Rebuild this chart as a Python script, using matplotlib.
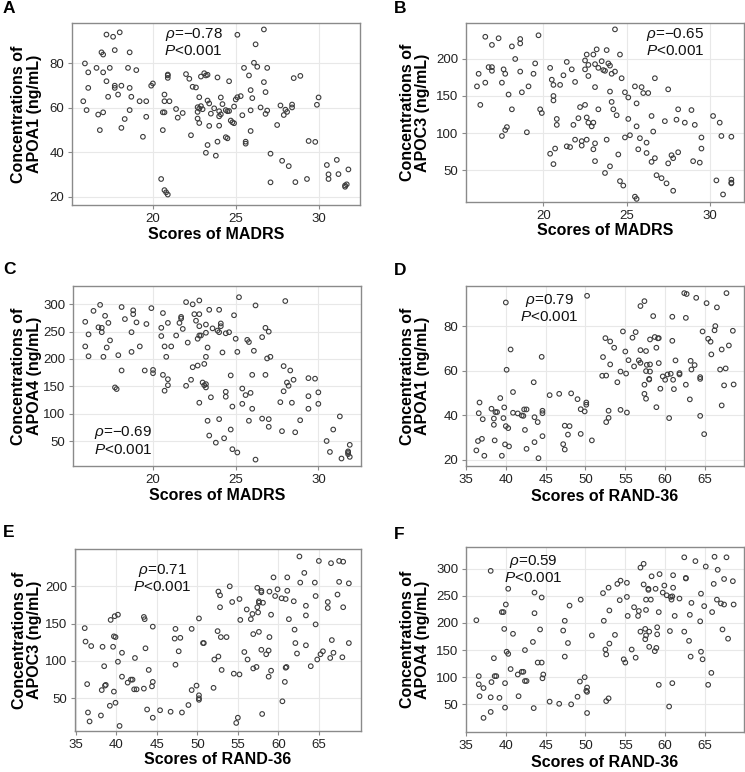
import numpy as np
import matplotlib.pyplot as plt

plt.rcParams['font.family'] = ['Liberation Sans', 'DejaVu Sans']
plt.rcParams['mathtext.fontset'] = 'custom'
plt.rcParams['mathtext.it'] = 'Liberation Sans:italic'
plt.rcParams['mathtext.rm'] = 'Liberation Sans'

#%% data

# A: MADRS vs APOA1
madrs_a = [15.9, 15.8, 16.0, 16.1, 16.1, 16.6, 16.7, 16.8, 16.9, 17.0, 17.0, 17.0, 17.2, 17.2, 17.3, 17.4, 17.6, 17.7, 17.7, 17.7,
           17.9, 18.0, 18.1, 18.1, 18.3, 18.5, 18.6, 18.6, 18.6, 18.7, 19.0, 19.2, 19.4, 19.6, 19.6, 19.9, 20.0,
           20.5, 20.6, 20.6, 20.7, 20.7, 20.7, 20.7, 20.8, 20.9, 20.9, 20.9, 20.9, 21.0,
           21.4, 21.5, 21.8, 22.0, 22.2, 22.3, 22.4, 22.6,
           22.7, 22.7, 22.7, 22.8, 22.8, 22.8, 22.9, 22.9, 23.0,
           23.2, 23.1, 23.2, 23.3, 23.3, 23.3, 23.4, 23.4, 23.5, 23.7, 23.8, 23.9, 23.9,
           24.0, 24.0, 24.0, 24.1, 24.1, 24.2, 24.4, 24.4, 24.5, 24.5, 24.6, 24.6, 24.7, 24.8, 24.9, 24.9, 25.0, 25.1, 25.1, 25.3, 25.4, 25.5,
           25.6, 25.6, 25.8, 25.9, 25.9, 25.9, 26.0, 26.1, 26.2, 26.3, 26.5, 26.7, 26.7, 26.8, 26.8, 26.9, 26.9,
           27.1, 27.1, 27.5, 27.7, 27.8, 27.9, 28.0, 28.1, 28.2, 28.4, 28.4, 28.5, 28.6, 28.9, 29.3, 29.4, 29.8, 29.9, 30.0,
           30.5, 30.6, 30.6, 31.1, 31.2, 31.6, 31.6, 31.7, 31.8]
apoa1_a = [80, 63, 59, 76, 69, 78, 57, 50, 85, 84, 58, 76, 72, 93, 65, 78, 92, 70, 69, 86,
           66, 94, 51, 70, 55, 78, 69, 85, 59, 65, 77, 63, 47, 56, 63, 70, 71,
           28, 58, 50, 23, 63, 66, 58, 22, 21, 75, 73.5, 74.6, 63,
           59.5, 55.6, 57.7, 75.2, 73.1, 47.7, 69.5, 69.2,
           55.2, 60.3, 58.2, 53.2, 64.8, 59.7, 74.1, 60.8, 59.4,
           39.8, 75.6, 74.6, 63.3, 74.9, 43.3, 51.9, 62, 57.4, 59.8, 38.5, 44.8, 73.7,
           58.5, 56.2, 52, 64.7, 57.1, 61.7, 59, 46.8, 58.5, 46.3, 58.6, 72, 54.3, 53.5, 53.1, 60.6, 63.8, 64.8, 92.9, 65.3, 56.7, 78,
           43.9, 44.8, 74.6, 68, 49.6, 58.9, 64.4, 80.3, 88.6, 78.5, 60.2, 95.3, 71.6, 57.3, 67.1, 58.8, 78,
           39.4, 26.5, 52.3, 61.1, 36.2, 56.8, 59.2, 58.2, 33.8, 61.5, 60.2, 73.4, 26.6, 74.4, 28, 45.1, 44.7, 61.4, 64.7,
           34.3, 30.1, 28, 36.6, 30.2, 25.1, 24.5, 25.6, 32.3]

# B: MADRS vs APOC3
madrs_b = [16.0, 16.1, 16.2, 16.5, 16.5, 16.7, 16.9, 16.9, 16.9, 17.3, 17.5, 17.5, 17.6, 17.7, 17.8, 17.7, 17.9, 18.1, 18.1, 18.3,
           18.6, 18.6, 18.6, 18.7, 19.0, 19.1, 19.4, 19.5, 19.7, 19.8, 19.9,
           20.4, 20.4, 20.5, 20.6, 20.6, 20.6, 20.6, 20.7, 20.8, 20.8, 21.0, 21.2, 21.4, 21.4, 21.6, 21.7, 21.8, 21.9, 21.9, 22.1,
           22.2, 22.3, 22.3, 22.5, 22.5, 22.5, 22.6, 22.6, 22.6, 22.7, 22.7, 22.7, 22.9, 23.0, 23.0, 23.0, 23.1, 23.1, 23.1, 23.2,
           23.1, 23.3, 23.3, 23.5, 23.6, 23.7, 23.7, 23.8, 23.8, 23.9, 24.0, 24.0, 24.0, 24.1, 24.1, 24.2, 24.3, 24.3, 24.4, 24.5,
           24.6, 24.6, 24.7, 24.8, 24.9, 24.9,
           25.1, 25.1, 25.2, 25.5, 25.5, 25.6, 25.6, 25.6, 25.7, 25.8, 25.9, 26.0, 26.2, 26.2, 26.3, 26.5, 26.5, 26.6, 26.7, 26.7,
           26.8, 27.1, 27.3, 27.4, 27.5, 27.5, 27.7, 27.8, 27.8, 28.0, 28.1, 28.1, 28.5, 28.9, 29.0, 29.1, 29.4, 29.5, 29.5, 30.2,
           30.4, 30.6, 30.7, 30.8, 31.3, 31.3, 31.3, 31.3]
apoc3_b = [163, 180, 138, 230, 168, 189, 219, 189, 184, 228, 168, 96, 186, 180, 108, 104, 152, 217, 132, 200,
           221, 227, 183, 155, 101, 163, 180, 194, 232, 132, 127,
           188, 72, 172, 165, 150, 144, 58, 79, 119, 111, 165, 178, 196, 82, 81, 186, 111, 169, 91, 120,
           135, 89, 83, 198, 186, 138, 121, 206, 91, 192, 114, 177, 109, 114, 206, 78, 193, 162, 86, 213,
           62, 132, 188, 197, 185, 46, 184, 91, 212, 194, 191, 156, 55, 180, 142, 132, 183, 240, 124, 71,
           35, 206, 174, 29, 94, 155,
           148, 119, 97, 163, 14, 11, 140, 109, 78, 93, 162, 154, 87, 73, 154, 123, 61, 102, 66, 174,
           43, 39, 116, 32, 159, 59, 70, 22, 66, 118, 74, 132, 114, 131, 62, 111, 60, 94, 79, 123,
           36, 114, 96, 17, 37, 33, 32, 95]

# C: MADRS vs APOA4
madrs_c = [15.9, 15.9, 16.1, 16.1, 16.4, 16.7, 16.8, 16.9, 16.9, 17.0, 17.1, 17.2, 17.3, 17.4, 17.7, 17.8, 17.9, 18.1, 18.1, 18.3,
           18.7, 18.7, 18.8, 18.8, 19.0, 19.2, 19.5, 19.6, 19.9, 20.0, 20.0,
           20.6, 20.5, 20.5, 20.6, 20.7, 20.8, 20.7, 20.9, 20.9, 20.9, 21.1, 21.4, 21.6, 21.7, 21.7, 21.8, 22.0, 22.0, 22.1, 22.3,
           22.4, 22.4, 22.5, 22.6, 22.7, 22.7, 22.8, 22.8, 22.8, 22.8, 22.8, 22.9, 23.0, 23.1, 23.2, 23.2, 23.1, 23.2, 23.2, 23.2,
           23.3, 23.3, 23.4, 23.4, 23.5, 23.6,
           23.8, 23.9, 24.0, 24.0, 24.0, 24.1, 24.1, 24.2, 24.3, 24.4, 24.4, 24.4, 24.6, 24.7, 24.7, 24.8, 24.8, 24.9, 25.0, 25.1,
           25.1, 25.2, 25.4, 25.4, 25.6, 25.7, 25.8, 25.8, 25.9, 26.0, 26.0, 26.1, 26.2, 26.2, 26.6, 26.6, 26.8, 26.8, 26.9, 27.0,
           27.0, 27.0, 27.1,
           27.7, 27.8, 27.9, 27.9, 28.0, 28.1, 28.2, 28.3, 28.4, 28.5, 28.6, 28.9, 29.4, 29.4, 29.4, 29.8, 30.0, 30.0, 30.5, 30.7,
           30.9, 31.3, 31.4, 31.8, 31.8, 31.8, 31.9, 31.9]
apoa4_c = [223, 268, 245, 205, 288, 258, 299, 249, 257, 204, 279, 221, 266, 234, 148, 145, 207, 295, 179, 273,
           249, 213, 282, 289, 267, 223, 179, 264, 293, 180, 174,
           284, 257, 242, 171, 223, 204, 142, 266, 163, 152, 223, 243, 266, 277, 274, 255, 151, 304, 230, 162,
           185, 300, 282, 270, 237, 188, 120, 243, 307, 282, 260, 243, 157, 152, 263, 204, 191, 248, 148, 154,
           221, 87, 60, 290, 130, 256,
           47, 252, 90, 249, 290, 265, 260, 212, 55, 140, 131, 247, 249, 170, 71, 113, 35, 280, 237, 29,
           213, 313, 146, 118, 134, 235, 231, 87, 138, 171, 109, 215, 16, 298, 240, 91, 171, 257, 201, 250,
           90, 76, 204,
           121, 68, 187, 141, 306, 157, 151, 179, 120, 162, 66, 88, 109, 165, 132, 164, 118, 139, 50, 30,
           71, 95, 18, 29, 26, 31, 21, 43]

# D: RAND-36 vs APOA1
rand_d = [36.3, 36.5, 36.6, 36.7, 37.0, 37.1, 37.3, 38.2, 38.5, 38.5, 38.6, 38.7, 38.9, 39.3, 39.5, 39.7, 39.8, 39.9, 40.0, 40.0,
          40.1, 40.3, 40.4, 40.6, 40.9, 40.9,
          41.5, 42.0, 42.2, 42.3, 42.4, 42.6, 42.6, 43.6, 43.6, 43.5, 44.0, 44.1, 44.5, 44.6, 44.6, 44.6, 45.5, 46.7, 47.2, 47.4,
          47.4, 47.8, 48.0, 48.2, 49.0, 49.4, 49.4, 49.9, 50.1, 50.1, 50.2, 50.8,
          52.2, 52.1, 52.5, 52.6, 52.6, 52.9, 52.9, 53.1, 53.1, 53.6, 54.0, 54.4, 54.4, 54.7, 55.0, 55.1, 55.2, 55.4, 55.9, 56.1,
          56.3, 56.7, 56.9, 56.9, 56.9,
          57.4, 57.4, 57.4, 57.6, 57.6, 57.7, 57.6, 58.0, 58.1, 58.1, 58.1, 58.0, 58.5, 58.7, 58.9, 58.9, 59.1, 59.2, 59.2, 59.4,
          59.7, 60.0, 60.3, 60.5, 60.7, 60.9, 60.9, 61.0, 61.1, 61.3, 61.8, 61.8,
          62.4, 62.6, 62.6, 62.7, 63.1, 63.2, 63.3, 63.7, 63.9, 64.4, 64.4, 64.4, 64.7, 64.9, 65.2, 65.4, 65.7, 65.8, 66.2, 66.3,
          66.5, 66.9, 67.1, 67.1, 67.4, 67.6, 67.7, 68.0, 68.5, 68.6]
apoa1_d = [24.2, 28.4, 40.9, 45.7, 29.4, 38.2, 21.8, 42.9, 38.5, 35.7, 28.7, 41.4, 41.4, 47.7, 21.8, 38.7, 43.5, 26.9, 90.6, 35.1,
           60.4, 34.2, 26.0, 69.5, 41.1, 50.4,
           40.8, 39.9, 39.7, 42.6, 33.4, 42.6, 24.9, 39.1, 27.9, 54.8, 36.9, 20.7, 66.2, 42.0, 40.9, 30.6, 49.0, 49.6, 27.0, 35.3,
           24.6, 31.3, 35.1, 49.8, 47.2, 42.7, 31.6, 41.7, 45.7, 44.7, 93.6, 28.7,
           66.1, 57.7, 74.6, 57.8, 36.9, 42.0, 38.8, 73.1, 62.8, 70.3, 54.8, 59.6, 42.4, 77.6, 68.6, 58.7, 41.2, 64.7, 74.8, 61.9,
           77.3, 64.6, 63.5, 89.0, 69.2,
           53.7, 49.6, 91.2, 59.8, 47.4, 62.6, 68.8, 56.3, 74.0, 62.8, 59.6, 56.0, 84.5, 75.1, 70.3, 43.6, 74.5, 74.6, 63.4, 51.9,
           57.4, 55.9, 58.3, 38.7, 58.6, 73.4, 84.2, 55.9, 51.7, 64.6, 58.9, 58.3,
           94.8, 83.7, 53.7, 94.4, 47.1, 64.4, 60.5, 62.5, 92.7, 57.1, 56.3, 39.7, 77.6, 31.5, 90.3, 74.3, 73.0, 67.3, 78.1, 80.0,
           88.4, 60.5, 44.4, 69.5, 53.4, 61.0, 94.8, 71.3, 77.9, 53.8]

# E: RAND-36 vs APOC3
rand_e = [36.1, 36.2, 36.4, 36.5, 36.7, 36.9, 38.1, 38.2, 38.3, 38.5, 38.6, 38.7, 39.2, 39.3, 39.6, 39.7, 39.7, 39.8, 39.9, 39.9,
          40.2, 40.2, 40.4, 40.7, 40.7, 41.4, 41.8, 42.0, 42.2, 42.3, 42.5,
          43.4, 43.4, 43.5, 43.6, 43.8, 44.0, 44.4, 44.5, 44.5, 44.5, 45.4, 46.7, 47.2, 47.3, 47.3, 47.7, 47.9, 48.1, 48.9, 49.3,
          49.3, 49.9, 50.2, 50.2, 50.2, 50.2, 50.7, 50.8,
          52.0, 52.1, 52.5, 52.6, 52.6, 52.8, 52.8, 52.9, 53.0, 53.6, 54.0, 54.3, 54.5, 54.8, 55.0, 55.2, 55.2, 55.3, 55.8, 56.1,
          56.2, 56.6, 56.8, 56.9, 56.9, 57.3, 57.4, 57.4, 57.5, 57.6, 57.6, 57.6, 57.9, 57.9, 57.9, 58.1, 58.0,
          58.5, 58.8, 58.8, 58.9, 58.9, 59.1, 59.1, 59.4, 59.6, 59.9, 60.4, 60.5, 60.8, 60.9, 60.9, 61.0, 61.1, 61.1, 61.3, 61.9,
          62.0, 62.1, 62.3, 62.6, 62.7, 63.2, 63.4, 63.4, 63.4, 64.0, 64.5, 64.6, 64.6, 64.8, 65.0, 65.2, 65.5, 66.1, 66.1, 66.4,
          66.5, 66.6, 66.8, 67.3, 67.5, 67.5, 67.9, 68.0, 68.0, 68.7, 68.7]
apoc3_e = [144, 126, 69, 31, 19, 120, 27, 61, 119, 93, 67, 68, 40, 155, 119, 133, 59, 160, 132, 44,
           162, 99, 13, 111, 79, 71, 75, 75, 62, 104, 62,
           159, 63, 156, 117, 35, 88, 66, 24, 146, 72, 34, 32, 130, 143, 95, 113, 131, 31, 41, 61,
           143, 67, 54, 50, 48, 157, 124, 124,
           64, 102, 140, 106, 193, 188, 172, 132, 88, 132, 200, 179, 83, 17, 24, 82, 183, 155, 112, 169,
           102, 156, 163, 136, 90, 92, 172, 198, 165, 139, 180, 178, 192, 194, 115, 178, 29,
           109, 114, 79, 132, 193, 162, 87, 212, 187, 196, 184, 46, 72, 183, 91, 92, 212, 194, 156, 180,
           142, 124, 110, 240, 205, 218, 174, 161, 121, 93, 205, 187, 149, 102, 234, 109, 113, 179, 171, 104,
           231, 128, 111, 189, 234, 206, 105, 233, 172, 204, 124]

# F: RAND-36 vs APOA4
rand_f = [36.3, 36.6, 36.6, 36.7, 37.2, 37.2, 38.1, 38.1, 38.1, 38.2, 38.5, 38.6, 38.8, 39.2, 39.5, 39.7, 39.8, 39.9, 39.9, 40.0,
          40.1, 40.3, 40.3, 40.6, 40.9,
          41.5, 41.6, 42.0, 42.2, 42.4, 42.4, 42.6, 43.4, 43.5, 43.6, 43.6, 44.0, 44.3, 44.5, 44.5, 44.6, 44.7, 45.5, 46.7, 47.2,
          47.4, 47.4, 47.8, 48.0, 48.2, 49.0, 49.3, 49.4, 49.9, 50.2, 50.1, 50.2, 50.2, 50.8,
          52.2, 52.3, 52.5, 52.6, 52.6, 52.9, 52.9, 53.0, 53.0, 53.7, 54.0, 54.3, 54.4, 54.8, 55.0, 55.2, 55.2, 55.3, 55.8, 56.1,
          56.3, 56.6, 56.7, 56.9, 56.9, 57.3, 57.3, 57.5, 57.5, 57.6, 57.6, 57.6, 57.9, 57.9, 58.0, 58.0, 58.2, 58.3,
          58.7, 58.9, 58.8, 59.0, 59.0, 59.2, 59.2, 59.3, 59.7, 59.9, 60.2, 60.5, 60.6, 60.7, 60.8, 60.9, 60.9, 61.0, 61.0, 61.2,
          61.8, 62.4, 62.4, 62.6, 62.6, 63.0, 63.1, 63.2, 63.3, 63.8, 64.4, 64.5, 64.5, 64.7, 64.9, 65.1, 65.4, 65.8, 65.9, 66.1,
          66.2, 66.5, 66.6, 67.0, 67.2, 67.4, 67.4, 67.7, 67.9, 68.5, 68.6]
apoa4_f = [205, 102, 87, 65, 80, 25, 296, 63, 36, 91, 135, 102, 102, 62, 220, 220, 189, 89, 44, 234,
           147, 143, 263, 115, 180,
           105, 65, 110, 110, 150, 93, 93, 165, 43, 256, 218, 127, 188, 247, 127, 98, 105, 55, 51, 186,
           204, 138, 163, 232, 50, 64, 92, 243, 100, 81, 75, 73, 34, 177,
           255, 204, 151, 142, 56, 61, 265, 223, 162, 178, 272, 242, 278, 133, 127, 274, 248, 213, 151, 229,
           136, 213, 222, 184, 302, 309, 271, 170, 189, 243, 224, 177, 263, 261, 184, 156, 243, 286,
           148, 154, 263, 192, 179, 220, 86, 290, 256, 269, 251, 46, 185, 248, 243, 249, 89, 288, 265, 213,
           245, 184, 321, 283, 282, 167, 215, 138, 237, 314, 203, 147, 254, 133, 231, 304, 86, 108, 220, 272,
           322, 243, 298, 236, 188, 234, 281, 321, 171, 277, 234]

rho_labels = ['\u2212' + '0.78', '\u2212' + '0.65', '\u2212' + '0.69', '0.79', '0.71', '0.59']
letters = ['A', 'B', 'C', 'D', 'E', 'F']
xlabels = ['Scores of MADRS'] * 3 + ['Scores of RAND-36'] * 3
ylabels = ['Concentrations of\nAPOA1 (ng/mL)', 'Concentrations of\nAPOC3 (ng/mL)', 'Concentrations of\nAPOA4 (ng/mL)',
           'Concentrations of\nAPOA1 (ng/mL)', 'Concentrations of\nAPOC3 (ng/mL)', 'Concentrations of\nAPOA4 (ng/mL)']
xs = [madrs_a, madrs_b, madrs_c, rand_d, rand_e, rand_f]
ys = [apoa1_a, apoc3_b, apoa4_c, apoa1_d, apoc3_e, apoa4_f]

#%% layout (pixel boxes of the axes in the 745x772 picture)
W, H = 745, 772
boxes = [(72, 23, 360, 205), (466, 23, 744, 202), (73, 286, 361, 466),
         (466, 286, 744, 466), (75, 549, 361, 731), (466, 547, 744, 732)]
xlims = [(15.12, 32.5), (15.34, 32.06), (15.16, 32.58), (35.0, 69.9), (34.9, 70.2), (35.0, 69.9)]
ylims = [(16.3, 98.2), (6.8, 248.6), (4.3, 333.5), (17.2, 98.0), (6.2, 250), (-1, 340)]
xticks = [[20, 25, 30]] * 3 + [[35, 40, 45, 50, 55, 60, 65]] * 3
yticks = [[20, 40, 60, 80], [50, 100, 150, 200], [50, 100, 150, 200, 250, 300],
          [20, 40, 60, 80], [50, 100, 150, 200], [50, 100, 150, 200, 250, 300]]
text_pos = [(22.46, 89.6), (27.92, 222.7), (18.19, 51), (45.5, 88.2), (45.7, 211.4), (43.4, 299)]
ylabel_x = [-0.104, -0.129, -0.108, -0.129, -0.115, -0.129]
xlabel_y = [-0.12, -0.12, -0.12, -0.13, -0.116, -0.122]
letter_pos = [(3, 13), (394, 13), (3, 274), (394, 275), (3, 537), (394, 539)]

fig = plt.figure(figsize=(W / 100, H / 100), dpi=100)

for i in range(6):
    x0, y0, x1, y1 = boxes[i]
    ax = fig.add_axes([x0 / W, 1 - y1 / H, (x1 - x0) / W, (y1 - y0) / H])
    ax.scatter(xs[i], ys[i], s=11, facecolors='none', edgecolors='#3c3c3c', linewidths=0.8, zorder=3)
    ax.set_xlim(xlims[i])
    ax.set_ylim(ylims[i])
    ax.set_xticks(xticks[i])
    ax.set_yticks(yticks[i])
    ax.grid(color='#e8e8e8', linewidth=0.8)
    ax.set_axisbelow(True)
    for sp in ax.spines.values():
        sp.set_color('#8a8a8a')
        sp.set_linewidth(1.0)
    ax.tick_params(length=3, width=0.8, color='#8a8a8a', labelsize=9.5, labelcolor='#222222', pad=2.5)
    ax.set_xlabel(xlabels[i], fontsize=11.5, fontweight='bold', va='top')
    ax.xaxis.set_label_coords(0.5, xlabel_y[i])
    ax.set_ylabel(ylabels[i], fontsize=11.5, fontweight='bold', linespacing=1.05)
    ax.yaxis.set_label_coords(ylabel_x[i], 0.5)
    ax.text(text_pos[i][0], text_pos[i][1], '$\\mathit{\u03c1}$=' + rho_labels[i] + '\n$\\mathit{P}$<0.001',
            ha='center', va='center', multialignment='center', fontsize=11, color='#111111', linespacing=1.1)
    fig.text(letter_pos[i][0] / W, 1 - letter_pos[i][1] / H, letters[i], fontsize=12.5, fontweight='bold')

plt.savefig('out.png', dpi=100)
